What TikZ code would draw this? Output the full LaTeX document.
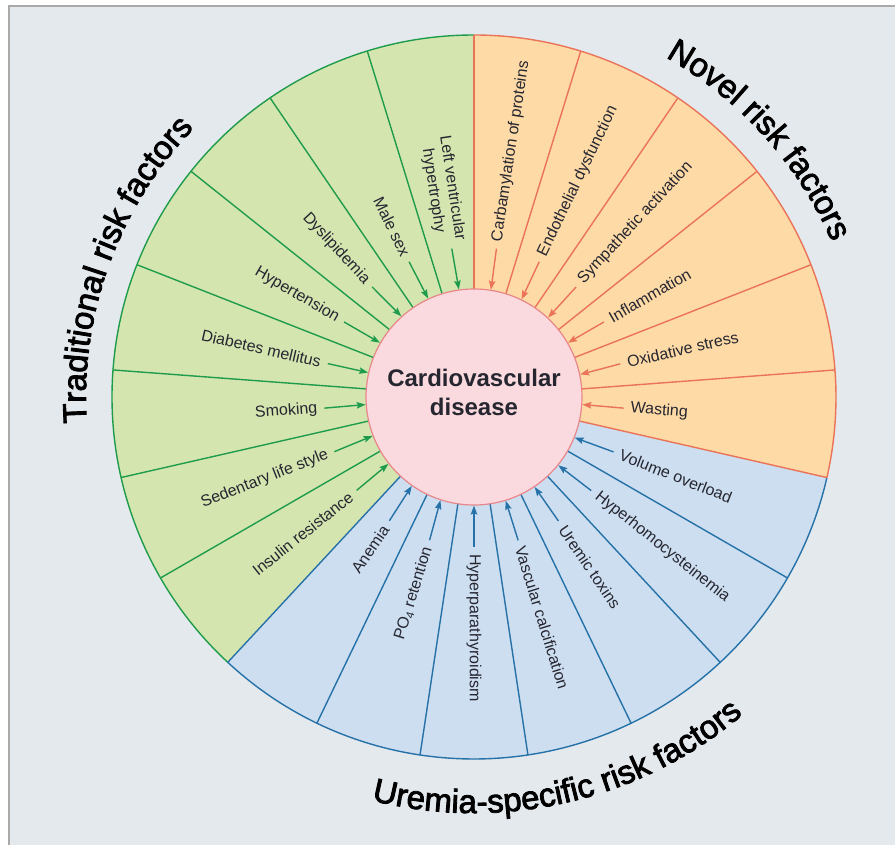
\documentclass[tikz,border=0pt]{standalone}
\usepackage{fontspec}
\setmainfont{Liberation Sans}
\newfontfamily\ttlfam[FakeBold=2.5]{Liberation Sans}
\usetikzlibrary{arrows.meta,decorations.text}
\definecolor{bgc}{HTML}{E4E9EE}
\definecolor{framec}{HTML}{A9A9A9}
\definecolor{gfill}{HTML}{D4E5B0}
\definecolor{gline}{HTML}{1F9C4B}
\definecolor{ofill}{HTML}{FDDAA6}
\definecolor{oline}{HTML}{EA7358}
\definecolor{bfill}{HTML}{CDDEF0}
\definecolor{bline}{HTML}{2672A8}
\definecolor{cfill}{HTML}{FADADE}
\definecolor{cline}{HTML}{E8868A}
\definecolor{txt}{HTML}{262630}
\newcommand\ttlfont{\ttlfam\fontsize{33}{33}\selectfont}
\begin{document}
\begin{tikzpicture}[x=1pt,y=1pt,
  lab/.style={font=\fontsize{16}{19}\selectfont, text=txt, inner sep=0pt},
  tip/.style={-{Stealth[length=9pt,width=6.5pt,inset=1.5pt]}, line width=1.4pt, shorten <=7pt},
  garr/.style={tip, draw=gline},
  oarr/.style={tip, draw=oline},
  barr/.style={tip, draw=bline},
  sep/.style={line width=1.4pt},
]
\def\st{17.142857}
\useasboundingbox (-474,-448) rectangle (421,397);
\fill[white] (-474,-448) rectangle (421,397);
\fill[bgc] (-465,-448) rectangle (421,391);
\draw[framec, line width=1.5pt] (-465,-448) -- (-465,391) -- (421,391);

% sectors
\fill[gfill] (0,0) -- (90:362) arc[start angle=90, end angle={90+8*\st}, radius=362] -- cycle;
\fill[ofill] (0,0) -- (90:362) arc[start angle=90, end angle={90-6*\st}, radius=362] -- cycle;
\fill[bfill] (0,0) -- ({90+8*\st}:362) arc[start angle={90+8*\st}, end angle={90+15*\st}, radius=362] -- cycle;

\foreach \k in {1,...,7} \draw[sep, gline] ({90+\k*\st}:100) -- ({90+\k*\st}:362);
\draw[sep, gline] (90:362) arc[start angle=90, end angle={90+8*\st}, radius=362];
\foreach \k in {8,...,14} \draw[sep, bline] ({90+\k*\st}:100) -- ({90+\k*\st}:362);
\draw[sep, bline] ({90+8*\st}:362) arc[start angle={90+8*\st}, end angle={90+15*\st}, radius=362];
\foreach \k in {0,...,6} \draw[sep, oline] ({90-\k*\st}:100) -- ({90-\k*\st}:362);
\draw[sep, oline] (90:362) arc[start angle=90, end angle={90-6*\st}, radius=362];

% centre
\node[circle, minimum size=216pt, inner sep=0pt, fill=cfill, draw=cline, line width=1.2pt] (cvd) at (0,0) {};
\node[align=center, text=txt, font=\fontsize{24}{29}\selectfont\bfseries] (cvdtext) at (0,5) {Cardiovascular\\disease};

% traditional (read inward)
\foreach \n/\a/\t in {g1/98.571/{Left ventricular\\hypertrophy}, g2/115.714/{Male sex}, g3/132.857/{Dyslipidemia}, g4/150/{Hypertension}, g5/167.143/{Diabetes mellitus}, g6/184.286/{Smoking}, g7/201.429/{Sedentary life style}, g8/218.571/{Insulin resistance}}{
  \node[lab, align=center, anchor=east, rotate=\a-180] (\n) at (\a:157) {\t};
  \draw[garr] (\n.east) -- (cvd.\a);
}
% novel (read outward)
\foreach \n/\a/\t in {o1/81.429/{Carbamylation of proteins}, o2/64.286/{Endothelial dysfunction}, o3/47.143/{Sympathetic activation}, o4/30/{Inflammation}, o5/12.857/{Oxidative stress}, o6/-4.286/{Wasting}}{
  \node[lab, anchor=west, rotate=\a] (\n) at (\a:157) {\t};
  \draw[oarr] (\n.west) -- (cvd.\a);
}
% uremia (first two read inward)
\foreach \n/\a/\t in {b1/235.714/{Anemia}, b2/252.857/{PO\textsubscript{4} retention}}{
  \node[lab, anchor=east, rotate=\a-180] (\n) at (\a:157) {\t};
  \draw[barr] (\n.east) -- (cvd.\a);
}
\foreach \n/\a/\t in {b3/270/{Hyperparathyroidism}, b4/287.143/{Vascular calcification}, b5/304.286/{Uremic toxins}, b6/321.429/{Hyperhomocysteinemia}, b7/338.571/{Volume overload}}{
  \node[lab, anchor=west, rotate=\a] (\n) at (\a:157) {\t};
  \draw[barr] (\n.west) -- (cvd.\a);
}

% titles
\begin{scope}[color=txt]
\path[decorate, decoration={text along path, text align=center, text={|\ttlfont|Traditional risk factors}}]
  (205:388) arc[start angle=205, end angle=115, radius=388];
\path[decorate, decoration={text along path, text align=center, text={|\ttlfont|Novel risk factors}}]
  (87:390) arc[start angle=87, end angle=-3, radius=390];
\path[decorate, decoration={text along path, text align=center, text={|\ttlfont|Uremia-specific risk factors}}]
  (238:416) arc[start angle=238, end angle=328, radius=416];
\end{scope}
\end{tikzpicture}
\end{document}
